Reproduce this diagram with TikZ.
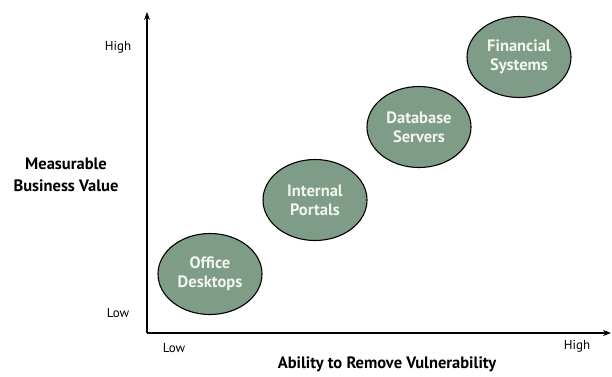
\documentclass[tikz,border=0pt]{standalone}
\usepackage{fontspec}
\setmainfont{PT Sans}
\usetikzlibrary{shapes.geometric,arrows.meta}
\definecolor{ellfill}{HTML}{7F9C88}
\definecolor{elltext}{HTML}{F2F5EE}
\tikzset{
  item/.style={ellipse, draw=black, line width=1.1pt, fill=ellfill, minimum width=104pt, minimum height=81pt, inner sep=0pt, align=center, font=\fontsize{16.5}{19}\selectfont\bfseries, text=elltext},
  axlabel/.style={font=\fontsize{13}{15}\selectfont, text=black},
  axtitle/.style={font=\fontsize{16.5}{22}\selectfont\bfseries, align=center, text=black},
  axis/.style={line width=1.1pt, -{Stealth[length=8pt,width=6pt]}}
}
\begin{document}
\begin{tikzpicture}[x=1pt,y=-1pt]
\useasboundingbox (0,0) rectangle (612,376);
\coordinate (O) at (147,333);
\coordinate (ytop) at (147,12);
\coordinate (xend) at (611,333);
\draw[axis] (O) -- (ytop);
\draw[axis] (O) -- (xend);
\node[item] (od) at (210,274) {Office\\Desktops};
\node[item] (ip) at (315,200) {Internal\\Portals};
\node[item] (ds) at (419,127) {Database\\Servers};
\node[item] (fs) at (519,57) {Financial\\Systems};
\node[axlabel] (yhigh) at (118,47) {High};
\node[axlabel] (ylow) at (118,313) {Low};
\node[axtitle] (ytitle) at (66,175) {Measurable\\Business Value};
\node[axlabel] (xlow) at (174,348) {Low};
\node[axlabel] (xhigh) at (577,346) {High};
\node[axtitle] (xtitle) at (387,364) {Ability to Remove Vulnerability};
\end{tikzpicture}
\end{document}
